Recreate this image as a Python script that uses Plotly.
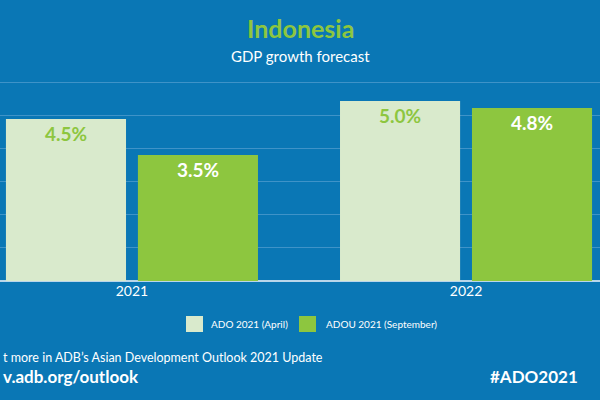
import plotly.graph_objects as go

years = ["2021", "2022"]
ado_april = [4.5, 5.0]
adou_sept = [3.5, 4.8]
series_names = ["ADO 2021 (April)", "ADOU 2021 (September)"]

BG = "#0a77b5"
LIGHT = "#d9eacc"
GREEN = "#8dc63f"
FONT = "Lato"

fig = go.Figure()
fig.add_bar(x=[0, 1], y=ado_april, name=series_names[0], marker_color=LIGHT,
            marker_line_width=0,
            text=[f"<b>{v:.1f}%</b>" for v in ado_april], textposition="inside",
            insidetextanchor="end", textfont=dict(color=GREEN, size=19, family=FONT))
fig.add_bar(x=[0, 1], y=adou_sept, name=series_names[1], marker_color=GREEN,
            marker_line_width=0,
            text=[f"<b>{v:.1f}%</b>" for v in adou_sept], textposition="inside",
            insidetextanchor="end", textfont=dict(color="white", size=19, family=FONT))

fig.update_layout(
    width=600, height=400, paper_bgcolor=BG, plot_bgcolor=BG,
    margin=dict(l=0, r=0, t=80, b=119),
    barmode="group", bargap=0.21, bargroupgap=0.09,
    font=dict(family=FONT, color="white"),
    showlegend=False,
    xaxis=dict(range=[-0.395, 1.401], tickvals=[0, 1], ticktext=years,
               showgrid=False, zeroline=False, showline=False,
               tickfont=dict(size=14, color="white")),
    yaxis=dict(range=[0, 5.58], dtick=0.92, showticklabels=False,
               gridcolor="#3f93c8", gridwidth=1, zeroline=True,
               zerolinecolor="#b9d6ea", zerolinewidth=1.5),
)

plot_h = 400 - 80 - 119
anns = [
    dict(text="Indonesia", x=0.5, y=28, size=25, color=GREEN, bold=True, anchor="center"),
    dict(text="GDP growth forecast", x=0.5, y=56, size=15, color="white", bold=False, anchor="center"),
    dict(text="t more in ADB’s Asian Development Outlook 2021 Update", x=1 / 600, y=357, size=12.5, color="white", bold=False, anchor="left"),
    dict(text="v.adb.org/outlook", x=1 / 600, y=376, size=17, color="white", bold=True, anchor="left"),
    dict(text="#ADO2021", x=580 / 600, y=376, size=17, color="white", bold=True, anchor="right"),
    dict(text=series_names[0], x=209 / 600, y=324, size=10, color="white", bold=False, anchor="left"),
    dict(text=series_names[1], x=324 / 600, y=324, size=10, color="white", bold=False, anchor="left"),
]
for a in anns:
    t = f"<b>{a['text']}</b>" if a["bold"] else a["text"]
    fig.add_annotation(text=t, xref="paper", yref="paper", x=a["x"],
                       y=(400 - 119 - a["y"]) / plot_h,
                       showarrow=False, xanchor=a["anchor"], yanchor="middle",
                       font=dict(size=a["size"], color=a["color"], family=FONT))

for x0, col in [(186, LIGHT), (299, GREEN)]:
    fig.add_shape(type="rect", xref="paper", yref="paper",
                  x0=x0 / 600, x1=(x0 + 17) / 600,
                  y0=(400 - 119 - 332) / plot_h, y1=(400 - 119 - 316) / plot_h,
                  fillcolor=col, line_width=0)

fig.write_html("out.html", config={"displayModeBar": False},
               post_script="document.body.style.margin='0';")
